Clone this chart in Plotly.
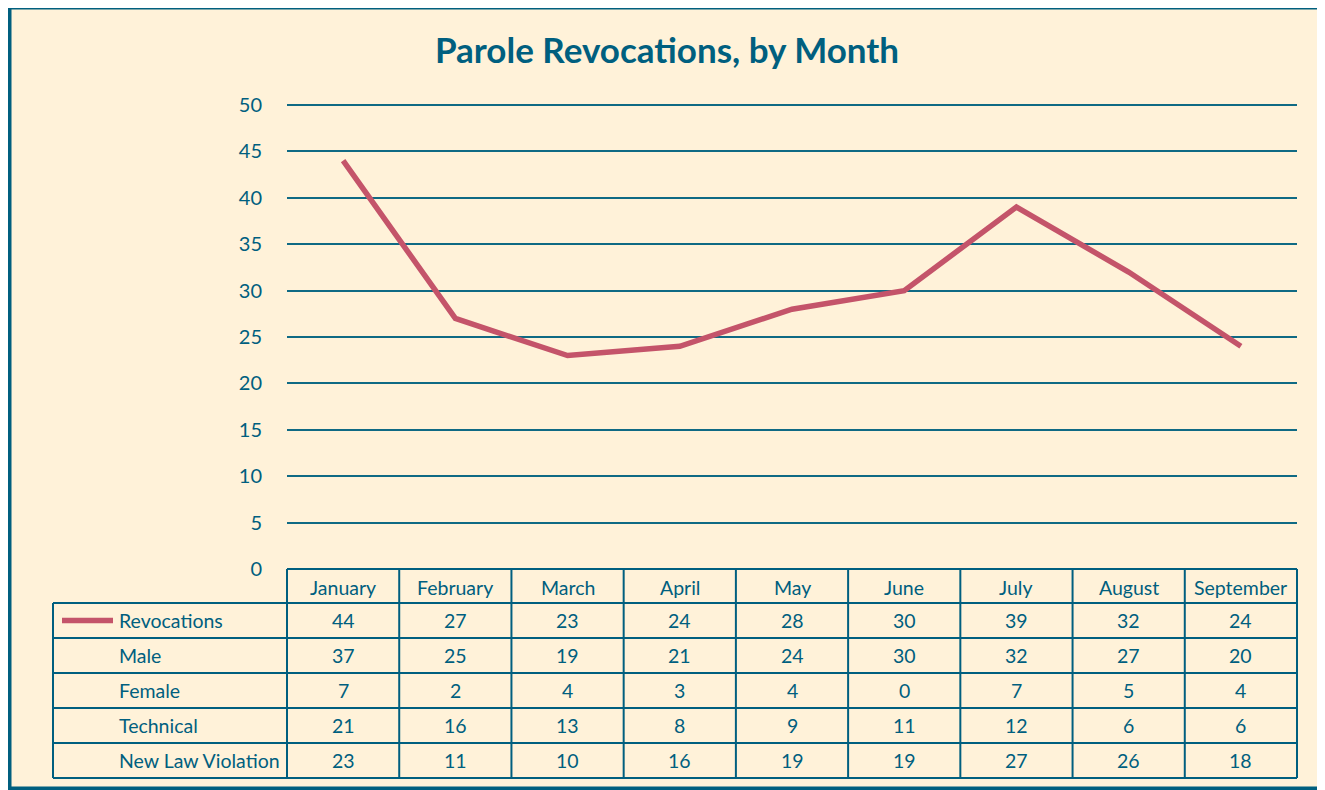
import plotly.graph_objects as go

months = ["January", "February", "March", "April", "May", "June", "July", "August", "September"]
revocations = [44, 27, 23, 24, 28, 30, 39, 32, 24]
male = [37, 25, 19, 21, 24, 30, 32, 27, 20]
female = [7, 2, 4, 3, 4, 0, 7, 5, 4]
technical = [21, 16, 13, 8, 9, 11, 12, 6, 6]
new_law = [23, 11, 10, 16, 19, 19, 27, 26, 18]
row_labels = ["Revocations", "Male", "Female", "Technical", "New Law Violation"]
rows = [revocations, male, female, technical, new_law]

W, H = 1325, 790
OFF = 8  # page body margin; positions below are in screen pixels
TEAL = "#005F7F"
GRID = "#0F6A84"
BG = "#FFF2D9"
RED = "#C4546A"
FONT = "Lato"

def py(p):
    return 1 - (p - OFF) / H

def px(p):
    return (p - OFF) / W

# plot area (screen px)
X0, X1 = 287, 1297
Y0, Y50 = 569, 105
YMAX = 50.2
scale = (Y0 - Y50) / 50.0
ytop = Y0 - YMAX * scale

fig = go.Figure()
fig.add_trace(go.Scatter(x=list(range(len(months))), y=revocations, mode="lines",
                         line=dict(color=RED, width=5.5), showlegend=False, hoverinfo="y"))

shapes = []
annotations = []

# outer border
shapes.append(dict(type="rect", xref="paper", yref="paper", x0=px(9), x1=px(1324), y0=py(789), y1=py(7),
                   line=dict(color=TEAL, width=5), layer="below"))

# table geometry (screen px)
header_top, header_bot = 569, 603
row_edges = [603, 638, 673, 708, 743, 778]
left_label = 53
lw = 2

shapes.append(dict(type="line", xref="x domain", yref="paper", x0=0, x1=1, y0=py(header_top), y1=py(header_top),
                   line=dict(color=TEAL, width=lw)))
for e in row_edges:
    shapes.append(dict(type="line", xref="paper", yref="paper", x0=px(left_label), x1=px(X1),
                       y0=py(e), y1=py(e), line=dict(color=TEAL, width=lw)))
shapes.append(dict(type="line", xref="paper", yref="paper", x0=px(left_label), x1=px(left_label),
                   y0=py(row_edges[0]), y1=py(row_edges[-1]), line=dict(color=TEAL, width=lw)))
shapes.append(dict(type="line", xref="x domain", yref="paper", x0=0, x1=0,
                   y0=py(header_top), y1=py(row_edges[-1]), line=dict(color=TEAL, width=lw)))
shapes.append(dict(type="line", xref="x domain", yref="paper", x0=1, x1=1,
                   y0=py(header_top), y1=py(row_edges[-1]), line=dict(color=TEAL, width=lw)))
for i in range(1, len(months)):
    shapes.append(dict(type="line", xref="x", yref="paper", x0=i - 0.5, x1=i - 0.5,
                       y0=py(header_top), y1=py(row_edges[-1]), line=dict(color=TEAL, width=lw)))

# legend glyph
cy = (row_edges[0] + row_edges[1]) / 2
shapes.append(dict(type="line", xref="paper", yref="paper", x0=px(62), x1=px(113), y0=py(cy), y1=py(cy),
                   line=dict(color=RED, width=5.5)))

tfont = dict(family=FONT, size=19.5, color=TEAL)
for i, m in enumerate(months):
    annotations.append(dict(x=i, y=py((header_top + header_bot) / 2 + 1), xref="x", yref="paper", text=m,
                            showarrow=False, font=tfont, xanchor="center", yanchor="middle"))
for r, (lab, vals) in enumerate(zip(row_labels, rows)):
    c = (row_edges[r] + row_edges[r + 1]) / 2
    annotations.append(dict(x=px(117), y=py(c), xref="paper", yref="paper", text=lab, showarrow=False,
                            font=tfont, xanchor="left", yanchor="middle"))
    for i, v in enumerate(vals):
        annotations.append(dict(x=i, y=py(c), xref="x", yref="paper", text=str(v), showarrow=False,
                                font=tfont, xanchor="center", yanchor="middle"))

fig.update_layout(
    width=W, height=H,
    margin=dict(l=0, r=0, t=0, b=0, pad=0, autoexpand=False),
    paper_bgcolor=BG, plot_bgcolor=BG,
    title=dict(text="<b>Parole Revocations, by Month</b>", x=px(667), xanchor="center", y=py(51),
               yanchor="middle", font=dict(family=FONT, size=35, color=TEAL)),
    xaxis=dict(domain=[px(X0), px(X1)], range=[-0.5, len(months) - 0.5], showticklabels=False,
               showgrid=False, zeroline=False, showline=False, ticks="", automargin=False),
    yaxis=dict(domain=[py(Y0), py(ytop)], range=[0, YMAX], tickvals=list(range(0, 51, 5)),
               showgrid=True, gridcolor=GRID, gridwidth=2, zeroline=False, showline=False, ticks="",
               ticklabelstandoff=24, automargin=False,
               tickfont=dict(family=FONT, size=20, color=TEAL)),
    shapes=shapes, annotations=annotations,
)

fig.write_html("out.html")
